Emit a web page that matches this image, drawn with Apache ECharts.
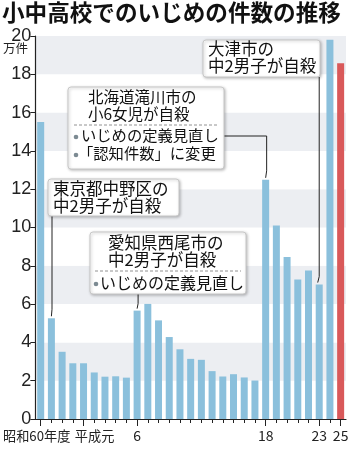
<!DOCTYPE html>
<html>
<head>
<meta charset="utf-8">
<script src="https://cdn.jsdelivr.net/npm/echarts@6/dist/echarts.min.js"></script>
<style>
html,body{margin:0;padding:0;background:#fff;}
#c{width:355px;height:450px;}
</style>
</head>
<body>
<div id="c"></div>
<script>
// 年度 (昭和60年度〜平成25年度)
const categories = ['昭和60','61','62','63','平成元','2','3','4','5','6','7','8','9','10','11','12','13','14','15','16','17','18','19','20','21','22','23','24','25'];
// いじめの件数（万件）
const values = [15.51,5.26,3.51,2.91,2.91,2.43,2.21,2.23,2.16,5.66,6.01,5.15,4.28,3.64,3.14,3.09,2.50,2.22,2.34,2.17,2.01,12.49,10.11,8.46,7.28,7.76,7.02,19.81,18.58];
// x軸の目盛りラベル
const tickLabels = ['昭和60年度','','','','平成元','','','','','6','','','','','','','','','','','','18','','','','','23','','25'];
// y軸の目盛り
const yTicks = [0,2,4,6,8,10,12,14,16,18,20];
const highlightIndex = 28;

const FONT = '"Noto Sans CJK JP", "Noto Sans", sans-serif';
const NUMFONT = '"Liberation Sans", Arial, sans-serif';
const BLUE = '#8bc0dc';
const RED = '#d9595a';

const chart = echarts.init(document.getElementById('c'), null, {renderer: 'canvas'});

const option = {
  animation: false,
  backgroundColor: '#fff',
  grid: {left: 35, right: 9, top: 36, bottom: 31, containLabel: false},
  xAxis: [{
    type: 'category',
    data: categories,
    boundaryGap: true,
    axisLine: {show: true, lineStyle: {color: '#222', width: 1.2}},
    axisTick: {show: true, alignWithLabel: true, length: 4, lineStyle: {color: '#222'}},
    axisLabel: {
      interval: 0, margin: 10, color: '#222', fontFamily: FONT, fontSize: 14,
      formatter: (v, i) => {
        const t = tickLabels[i];
        if (!t) return '';
        if (t === '平成元') return '{g| }{s|' + t + '}';
        if (t === '昭和60年度') return '{s|' + t + '}{h| }';
        return t;
      },
      rich: {
        s: {fontFamily: FONT, fontSize: 13.2, color: '#222'},
        g: {width: 22, fontSize: 13.2},
        h: {width: 8, fontSize: 13.2}
      }
    },
    splitLine: {show: false}
  }, {
    type: 'category',
    data: categories,
    position: 'bottom',
    boundaryGap: true,
    axisLine: {show: false},
    axisTick: {show: true, alignWithLabel: true, length: 7, interval: (i) => tickLabels[i] !== '', lineStyle: {color: '#222'}},
    axisLabel: {show: false},
    splitLine: {show: false}
  }],
  yAxis: {
    type: 'value',
    min: yTicks[0], max: yTicks[yTicks.length - 1], interval: 2,
    axisLine: {show: true, lineStyle: {color: '#222', width: 1.2}},
    axisTick: {show: true, length: 5, lineStyle: {color: '#222'}},
    axisLabel: {margin: 4, color: '#222', fontFamily: NUMFONT, fontSize: 18},
    splitLine: {show: false},
    splitArea: {show: true, areaStyle: {color: ['#ffffff', '#eceef2']}}
  },
  series: [{
    type: 'bar',
    data: values,
    barWidth: 7,
    itemStyle: {color: (p) => p.dataIndex === highlightIndex ? RED : BLUE},
    z: 2
  }],
  graphic: []
};
chart.setOption(option);

function pt(i) { return chart.convertToPixel({xAxisIndex: 0, yAxisIndex: 0}, [i, values[i]]); }

function box(x, y, w, h) {
  return {type: 'rect', shape: {x: x, y: y, width: w, height: h, r: 3}, z: 20,
    style: {fill: '#fff', stroke: '#c8c8c8', lineWidth: 1, shadowBlur: 3, shadowOffsetX: 1, shadowOffsetY: 1, shadowColor: 'rgba(0,0,0,0.25)'}};
}
function txt(s, x, y, size) {
  return {type: 'text', x: x, y: y, z: 21, style: {text: s, fill: '#111', font: 'normal ' + size + 'px ' + FONT, textVerticalAlign: 'top'}};
}
function dash(x1, x2, y) {
  return {type: 'line', z: 21, shape: {x1: x1, y1: y, x2: x2, y2: y}, style: {stroke: '#777', lineWidth: 0.8, lineDash: [3, 2]}};
}
function dot(x, y) {
  return {type: 'circle', z: 21, shape: {cx: x, cy: y, r: 2.3}, style: {fill: '#7c8a92'}};
}
function leader(points) {
  return {type: 'polyline', z: 19, shape: {points: points}, style: {stroke: '#222', lineWidth: 1, fill: null}};
}

const g = [];
// 東京都中野区
const p1 = pt(1);
g.push(leader([[52, 216], [52, p1[1] - 9], [p1[0], p1[1] - 2]]));
g.push(box(48, 179, 131, 37));
g.push(txt('東京都中野区の', 53, 180, 16.5));
g.push(txt('中2男子が自殺', 53, 197, 16.5));

// 北海道滝川市
const p21 = pt(21);
g.push(leader([[224, 136], [p21[0] + 1, 136], [p21[0] + 1, p21[1] - 9], [p21[0], p21[1] - 2]]));
g.push(box(68, 87, 156, 82));
g.push(txt('北海道滝川市の', 88, 89, 15.5));
g.push(txt('小6女児が自殺', 88, 106, 15.5));
g.push(dash(74, 218, 125));
g.push(dot(76, 137));
g.push(txt('いじめの定義見直し', 81, 128, 15.3));
g.push(dot(76, 155));
g.push(txt('「認知件数」に変更', 78, 146, 15.3));

// 愛知県西尾市
const p9 = pt(9);
g.push(leader([[p9[0] + 1, 294], [p9[0] + 1, p9[1] - 7], [p9[0], p9[1] - 2]]));
g.push(box(90, 232, 156, 62));
g.push(txt('愛知県西尾市の', 108, 234, 16.5));
g.push(txt('中2男子が自殺', 108, 251, 16.5));
g.push(dash(95, 241, 271));
g.push(dot(96, 284));
g.push(txt('いじめの定義見直し', 100, 275, 16));

// 大津市
const p26 = pt(26);
g.push(leader([[p26[0], 77], [p26[0], p26[1] - 8], [p26[0] - 1.5, p26[1] - 2]]));
g.push(box(203, 40, 117, 37));
g.push(txt('大津市の', 208, 40, 16.5));
g.push(txt('中2男子が自殺', 208, 57, 16.5));

// タイトル・単位
g.push({type: 'text', x: 2, y: 1, z: 30, style: {text: '小中高校でのいじめの件数の推移', fill: '#111', font: 'bold 22.6px ' + FONT, textVerticalAlign: 'top'}});
g.push({type: 'text', x: 3, y: 42, z: 30, style: {text: '万件', fill: '#222', font: 'normal 12.5px ' + FONT, textVerticalAlign: 'top'}});

chart.setOption({graphic: g});
</script>
</body>
</html>
